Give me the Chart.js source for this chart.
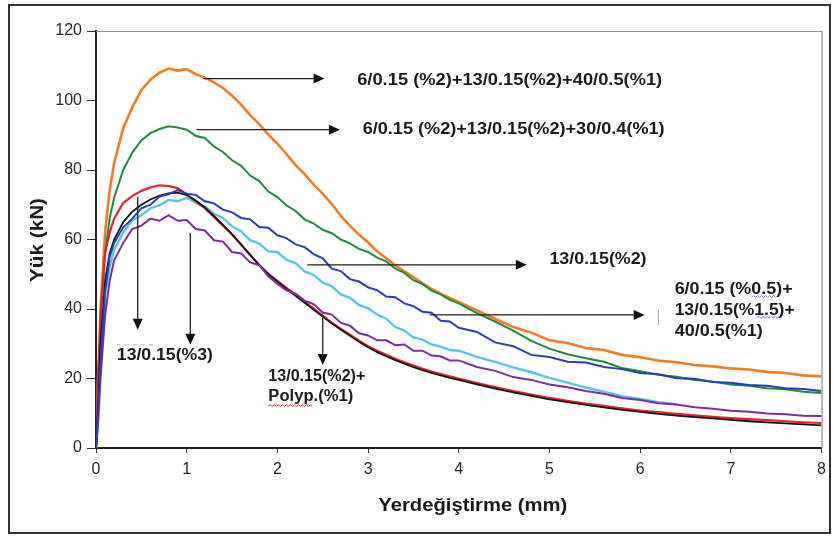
<!DOCTYPE html>
<html>
<head>
<meta charset="utf-8">
<script src="https://cdn.jsdelivr.net/npm/chart.js"></script>
<style>
  html, body { margin: 0; padding: 0; background: #fff; }
</style>
</head>
<body>
<canvas id="chart" width="833" height="536"></canvas>
<script>
// displacement (mm) sample points, shared by all curves
const xs = [0, 0.02, 0.05, 0.1, 0.15,
  0.2, 0.3, 0.4, 0.5, 0.6, 0.7, 0.8, 0.9, 1.0,
  1.1, 1.2, 1.3, 1.4, 1.5, 1.6, 1.7, 1.8, 1.9, 2.0,
  2.1, 2.2, 2.3, 2.4, 2.5, 2.6, 2.7, 2.8, 2.9, 3.0,
  3.1, 3.2, 3.3, 3.4, 3.5, 3.6, 3.7, 3.8, 3.9, 4.0,
  4.2, 4.4, 4.6, 4.8, 5.0, 5.2, 5.4, 5.6, 5.8, 6.0,
  6.2, 6.4, 6.6, 6.8, 7.0, 7.2, 7.4, 7.6, 7.8, 8.0];

// load (kN)
const orange = [0, 18, 40, 62, 74,
  82, 92, 98, 103, 106, 108, 109.2, 108.6, 109,
  107.6, 106.6, 105.2, 103.6, 101.4, 98.8, 95.8, 93.2, 90.2, 87.6,
  84.6, 81.4, 78.8, 75.8, 73.2, 70.2, 66.8, 64, 61.4, 59.2,
  56.6, 54.6, 52.6, 50.8, 49.2, 47.4, 45.8, 44.4, 43.2, 42,
  39.6, 37.2, 34.8, 33.2, 31, 30.2, 28.8, 28.2, 26.8, 26.1,
  25.2, 24.7, 23.9, 23.5, 22.9, 22.6, 21.9, 21.6, 20.9, 20.6];
const green = [0, 15, 38, 56, 66,
  72, 80, 85, 88.5, 90.6, 91.8, 92.6, 92.2, 91.6,
  89.8, 89.2, 86.8, 85.2, 82.8, 81.2, 78.4, 76.8, 73.8, 72.2,
  69.8, 68.2, 65.8, 64.6, 62.8, 61.8, 60, 58.9, 57.3, 56.4,
  54.8, 53.7, 51.6, 50.4, 48.3, 47.2, 45.3, 44.2, 42.6, 41.6,
  38.8, 36.4, 33.8, 30.8, 28.6, 27, 25.8, 24.8, 23, 22.1,
  21.1, 20.5, 19.6, 19.1, 18.3, 17.9, 17.2, 16.9, 16.2, 15.8];
const blue = [0, 8, 25, 45, 55,
  59, 63.5, 66, 69, 70, 72.4, 73, 74.2, 73.2,
  72.8, 71, 70.4, 68.6, 67.8, 66.2, 65.8, 63.6, 63.4, 61.2,
  60.4, 58.6, 57.8, 55.8, 54.6, 51.6, 50.9, 48.6, 47.9, 46.2,
  45.4, 43.6, 43.4, 41.6, 40.8, 39.2, 38.9, 36.6, 36.4, 34.6,
  33.4, 30.4, 29.3, 26.8, 26.2, 24.8, 24.6, 23.3, 22.7, 21.6,
  21.2, 20.1, 19.9, 19, 18.8, 18.1, 17.9, 17.2, 17, 16.4];
const red = [0, 15, 38, 56, 62,
  66, 70.5, 72.5, 74, 75, 75.6, 75.4, 74.8, 73,
  71, 69, 66.5, 64, 61.5, 58.5, 55.5, 52.6, 50.1, 48.1,
  46.1, 44.1, 42.1, 40.1, 38.1, 36.1, 34.3, 32.6, 30.9, 29.3,
  28, 26.8, 25.7, 24.7, 23.7, 22.8, 22, 21.3, 20.6, 20,
  18.7, 17.5, 16.4, 15.4, 14.4, 13.6, 12.8, 12.1, 11.4, 10.8,
  10.3, 9.8, 9.4, 9, 8.6, 8.3, 8, 7.7, 7.4, 7.2];
const black = [0, 10, 30, 48, 56,
  60, 65, 68, 70, 71.5, 72.6, 73.3, 73.5, 72.8,
  71.2, 69.2, 66.8, 64.2, 61.5, 58.6, 55.6, 52.7, 50, 47.9,
  45.8, 43.8, 41.8, 39.8, 37.8, 35.8, 34, 32.3, 30.6, 29,
  27.6, 26.4, 25.3, 24.3, 23.3, 22.4, 21.6, 20.9, 20.2, 19.6,
  18.3, 17.1, 16, 15, 14, 13.2, 12.4, 11.7, 11, 10.4,
  9.8, 9.3, 8.9, 8.5, 8.1, 7.7, 7.4, 7.1, 6.8, 6.5];
const cyan = [0, 8, 26, 44, 52,
  57, 62, 65.5, 67, 69, 69.8, 71.4, 71, 72,
  70.6, 69.4, 67.4, 66.2, 63.8, 62.4, 59.8, 58.8, 56.6, 56.4,
  54.2, 53.2, 50.8, 49.8, 47.6, 46.6, 44.2, 43.2, 41.2, 40.2,
  38.4, 37.2, 34.8, 33.8, 31.8, 31.2, 29.8, 29.2, 28.2, 28,
  26.2, 24.8, 23.2, 21.8, 20.2, 18.8, 17.4, 16.2, 14.9, 14.1,
  13.2, 12.6, null, null, null, null, null, null, null, null];
const purple = [0, 6, 20, 38, 48,
  54, 59, 63, 64, 66, 65.4, 67, 65.4, 65.6,
  63, 62.6, 59.8, 59.4, 56.4, 56, 53.4, 52.6, 49.4, 47.2,
  45.4, 44.4, 42.4, 41.4, 39, 38.4, 36, 35.2, 33, 32.4,
  31, 31, 29.6, 29.8, 28, 28, 26.6, 26.4, 25.2, 25.2,
  23.3, 22.2, 20.4, 19.6, 18.3, 17.5, 16.4, 15.6, 14.4, 13.8,
  12.9, 12.5, 11.7, 11.3, 10.7, 10.4, 9.9, 9.7, 9.3, 9.2];

// annotations, in data units (mm, kN)
const arrows = [
  [1.18, 106.3, 2.52, 106.3],
  [1.11, 91.6, 2.69, 91.6],
  [2.33, 52.7, 4.75, 52.7],
  [3.68, 38.3, 6.05, 38.3],
  [0.46, 72.3, 0.46, 34.0],
  [1.04, 61.9, 1.04, 29.7],
  [2.50, 37.5, 2.50, 23.9]
];
const notes = [
  ['6/0.15 (%2)+13/0.15(%2)+40/0.5(%1)', 2.88, 105.8, 305],
  ['6/0.15 (%2)+13/0.15(%2)+30/0.4(%1)', 2.94, 91.6, 302],
  ['13/0.15(%2)', 5.00, 54.2, 97],
  ['6/0.15 (%0.5)+', 6.38, 45.5, 118],
  ['13/0.15(%1.5)+', 6.38, 39.6, 120],
  ['40/0.5(%1)', 6.38, 33.5, 88],
  ['13/0.15(%3)', 0.23, 26.5, 96],
  ['13/0.15(%2)+', 1.90, 20.5, 97],
  ['Polyp.(%1)', 1.90, 14.7, 85]
];

const FONT = '"Liberation Sans", Arial, sans-serif';

function pts(vals) {
  return xs.map((x, i) => ({ x: x, y: vals[i] }));
}

function stretchText(ctx, str, x, y, font, targetW, align) {
  ctx.font = font;
  const w = ctx.measureText(str).width;
  ctx.save();
  ctx.translate(x, y);
  ctx.scale(targetW / w, 1);
  ctx.textAlign = align || 'left';
  ctx.textBaseline = 'middle';
  ctx.fillText(str, 0, 0);
  ctx.restore();
}

function wavy(ctx, x1, x2, y, color) {
  ctx.save();
  ctx.strokeStyle = color;
  ctx.lineWidth = 1;
  ctx.beginPath();
  let up = true;
  ctx.moveTo(x1, y);
  for (let x = x1 + 2; x <= x2; x += 2) {
    ctx.lineTo(x, up ? y - 1.2 : y + 0.6);
    up = !up;
  }
  ctx.stroke();
  ctx.restore();
}

const decorations = {
  id: 'decorations',
  afterDatasetsDraw(chart) {
    const ctx = chart.ctx;
    const sx = chart.scales.x, sy = chart.scales.y;
    const px = v => sx.getPixelForValue(v);
    const py = v => sy.getPixelForValue(v);

    // top and right edges of the plot box
    const a = chart.chartArea;
    ctx.save();
    ctx.strokeStyle = '#7f929c';
    ctx.lineWidth = 1.2;
    ctx.beginPath();
    ctx.moveTo(a.left, a.top + 0.5);
    ctx.lineTo(a.right + 0.5, a.top + 0.5);
    ctx.lineTo(a.right + 0.5, a.bottom);
    ctx.stroke();
    ctx.restore();

    // arrows
    ctx.save();
    ctx.strokeStyle = '#1e1e1e';
    ctx.fillStyle = '#111';
    ctx.lineWidth = 1.3;
    arrows.forEach(([x1, y1, x2, y2]) => {
      const X1 = px(x1), Y1 = py(y1), X2 = px(x2), Y2 = py(y2);
      const ang = Math.atan2(Y2 - Y1, X2 - X1);
      const L = 11, H = 5;
      ctx.beginPath();
      ctx.moveTo(X1, Y1);
      ctx.lineTo(X2 - L * Math.cos(ang), Y2 - L * Math.sin(ang));
      ctx.stroke();
      ctx.beginPath();
      ctx.moveTo(X2, Y2);
      ctx.lineTo(X2 - L * Math.cos(ang) - H * Math.sin(ang), Y2 - L * Math.sin(ang) + H * Math.cos(ang));
      ctx.lineTo(X2 - L * Math.cos(ang) + H * Math.sin(ang), Y2 - L * Math.sin(ang) - H * Math.cos(ang));
      ctx.closePath();
      ctx.fill();
    });
    ctx.restore();

    // labels
    ctx.save();
    ctx.fillStyle = '#1a1a1a';
    notes.forEach(([t, x, y, w]) => {
      stretchText(ctx, t, px(x), py(y), 'bold 16px ' + FONT, w);
    });
    ctx.restore();

    // spell-check squiggles and stray marks from the original figure
    wavy(ctx, px(1.90), px(2.39), py(12.1), '#e03030');
    wavy(ctx, px(7.23), px(7.50), py(43.5), '#6a7fd6');
    wavy(ctx, px(7.29), px(7.57), py(37.5), '#6a7fd6');
    ctx.save();
    ctx.strokeStyle = '#7fa8c8';
    ctx.lineWidth = 1;
    ctx.beginPath();
    ctx.moveTo(px(6.20), py(39.8));
    ctx.lineTo(px(6.20), py(35.4));
    ctx.stroke();
    ctx.setLineDash([4, 4]);
    ctx.strokeStyle = '#a9c4dc';
    ctx.beginPath();
    ctx.moveTo(px(0.23), py(29.7));
    ctx.lineTo(px(0.63), py(29.7));
    ctx.stroke();
    ctx.restore();
  },
  afterDraw(chart) {
    const ctx = chart.ctx;
    const a = chart.chartArea;
    ctx.save();
    ctx.fillStyle = '#1a1a1a';
    // axis titles
    stretchText(ctx, 'Yerdeğiştirme (mm)', (a.left + a.right) / 2 + 14, 506, 'bold 18px ' + FONT, 189, 'center');
    ctx.translate(38, 240);
    ctx.rotate(-Math.PI / 2);
    stretchText(ctx, 'Yük (kN)', 0, 0, 'bold 18px ' + FONT, 84, 'center');
    ctx.restore();
    // outer frame
    ctx.save();
    ctx.strokeStyle = '#333';
    ctx.lineWidth = 2;
    ctx.strokeRect(9, 5, 821, 528);
    ctx.restore();
  }
};

const series = [
  { data: blue, color: '#2a3db4', width: 2 },
  { data: purple, color: '#7a2e9c', width: 2 },
  { data: black, color: '#141414', width: 1.8 },
  { data: red, color: '#e3242b', width: 2.2 },
  { data: cyan, color: '#58c6e2', width: 2.4 },
  { data: green, color: '#1f8a3c', width: 2 },
  { data: orange, color: '#f27c22', width: 2.6 }
];

new Chart(document.getElementById('chart'), {
  type: 'line',
  data: {
    datasets: series.map(s => ({
      data: pts(s.data),
      borderColor: s.color,
      borderWidth: s.width,
      pointRadius: 0,
      tension: 0,
      fill: false
    }))
  },
  options: {
    responsive: false,
    animation: false,
    devicePixelRatio: 1,
    layout: { padding: { top: 31, right: 11, left: 0, bottom: 0 } },
    plugins: { legend: { display: false }, tooltip: { enabled: false } },
    scales: {
      x: {
        type: 'linear',
        min: 0,
        max: 8,
        ticks: { stepSize: 1, color: '#262626', font: { family: FONT, size: 16 }, padding: 7, maxRotation: 0 },
        grid: { drawOnChartArea: false, drawTicks: true, tickLength: 5, color: '#333' },
        border: { display: true, color: '#222', width: 2 },
        afterFit: s => { s.height = 88; }
      },
      y: {
        min: 0,
        max: 120,
        ticks: { stepSize: 20, color: '#262626', font: { family: FONT, size: 16 }, padding: 5 },
        grid: { drawOnChartArea: false, drawTicks: true, tickLength: 9, color: '#333' },
        border: { display: true, color: '#222', width: 2 },
        afterFit: s => { s.width = 96; }
      }
    }
  },
  plugins: [decorations]
});
</script>
</body>
</html>
